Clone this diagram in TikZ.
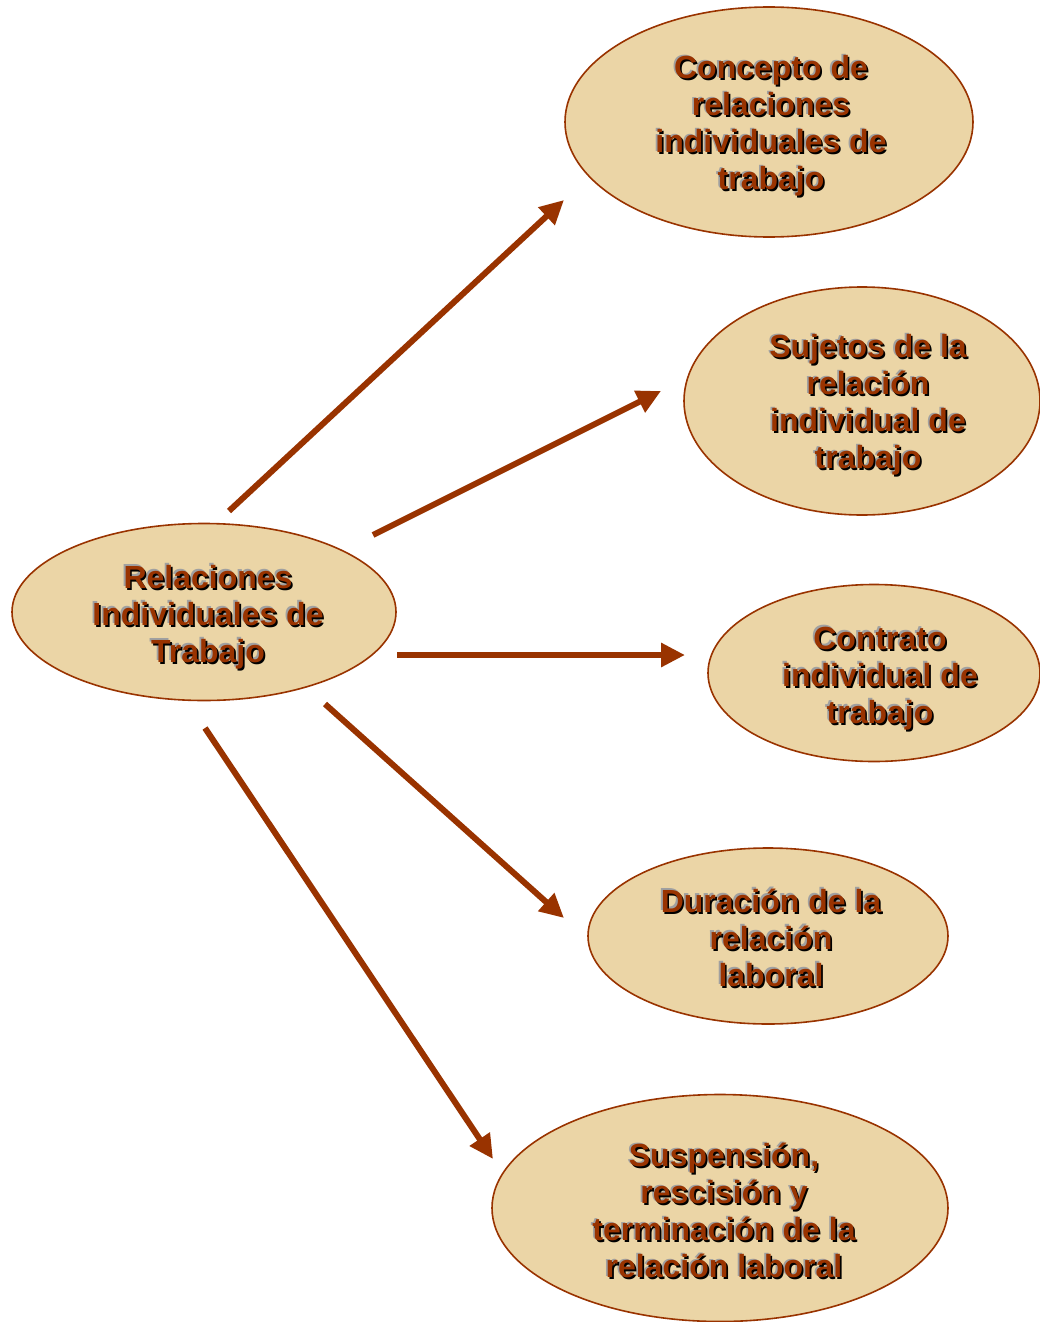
\documentclass[tikz,border=0pt]{standalone}
\usepackage{fontspec}
\setmainfont{Liberation Sans}
\usetikzlibrary{shapes.geometric,arrows.meta}
\definecolor{brn}{HTML}{993300}
\definecolor{parch}{HTML}{EBD5A6}
\definecolor{shgray}{HTML}{A0A0A0}
\tikzset{
  oval/.style={ellipse, draw=brn, line width=1.6pt, fill=parch, inner sep=0pt},
  lbl/.style={font=\fontsize{32}{37}\selectfont\bfseries, inner sep=0pt, text=brn},
  conn/.style={draw=brn, line width=6pt, -{Triangle[length=24pt,width=23pt]}},
}
\newcommand{\blkln}[1]{\begin{tabular}{@{}c@{}}#1\end{tabular}}
\newcommand{\embt}[1]{%
  \rlap{\kern-1.8pt\raisebox{1.8pt}{\color{shgray}\blkln{#1}}}%
  \rlap{\kern1.7pt\raisebox{-1.7pt}{\color{black}\blkln{#1}}}%
  \blkln{#1}}
\begin{document}
\begin{tikzpicture}[x=1pt,y=-1pt]
\fill[white] (0,0) rectangle (1040,1322);
\useasboundingbox (0,0) rectangle (1040,1322);
% ellipses
\node[oval, minimum width=408pt, minimum height=230pt] (n1) at (769,122) {};
\node[oval, minimum width=356pt, minimum height=228pt] (n2) at (862,401) {};
\node[oval, minimum width=332pt, minimum height=177pt] (n3) at (874,673) {};
\node[oval, minimum width=360pt, minimum height=176pt] (n4) at (768,936) {};
\node[oval, minimum width=456pt, minimum height=227pt] (n5) at (720,1208) {};
\node[oval, minimum width=384pt, minimum height=177pt] (c) at (204,612) {};
% texts
\node[lbl] (t1) at (771,127) {\embt{Concepto de\\relaciones\\individuales de\\trabajo}};
\node[lbl] (t2) at (868,406) {\embt{Sujetos de la\\relación\\individual de\\trabajo}};
\node[lbl] (t3) at (880,679) {\embt{Contrato\\individual de\\trabajo}};
\node[lbl] (t4) at (771,942) {\embt{Duración de la\\relación\\laboral}};
\node[lbl] (t5) at (724,1215) {\embt{Suspensión,\\rescisión y\\terminación de la\\relación laboral}};
\node[lbl] (tc) at (208,618) {\embt{Relaciones\\Individuales de\\Trabajo}};
% connector endpoints
\coordinate (s1) at (229,511); \coordinate (e1) at (564,200);
\coordinate (s2) at (373,535); \coordinate (e2) at (661,391);
\coordinate (s3) at (397,655); \coordinate (e3) at (685,655);
\coordinate (s4) at (325,704); \coordinate (e4) at (564,918);
\coordinate (s5) at (205,728); \coordinate (e5) at (493,1159);
\draw[conn] (s1) -- (e1);
\draw[conn] (s2) -- (e2);
\draw[conn] (s3) -- (e3);
\draw[conn] (s4) -- (e4);
\draw[conn] (s5) -- (e5);
\end{tikzpicture}
\end{document}
